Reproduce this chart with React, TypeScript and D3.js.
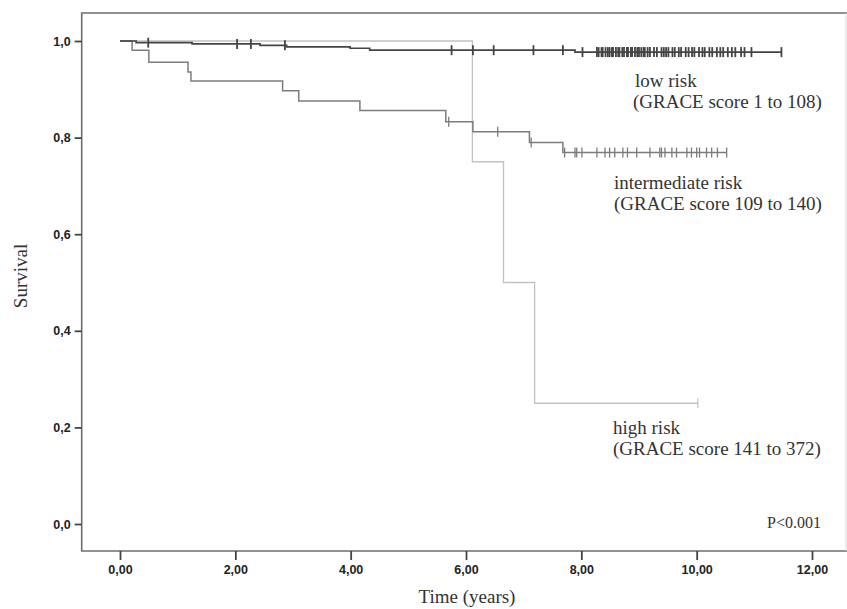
import React, { useEffect, useRef } from 'react';
import * as d3 from 'd3';

// Kaplan-Meier steps (time in years, survival)
const lowTimes = [0, 0.28, 1.25, 2.43, 2.89, 3.99, 4.33, 7.89];
const lowSurvival = [1.0, 0.9965, 0.994, 0.991, 0.988, 0.985, 0.981, 0.977];
const lowEnd = 11.47;
const lowCensored = [
  0.49, 2.03, 2.27, 2.86, 5.75, 6.12, 6.48, 7.17, 7.68, 8.02,
  8.27, 8.3, 8.35, 8.37, 8.42, 8.46, 8.49, 8.53, 8.55, 8.6, 8.64, 8.66, 8.71, 8.74,
  8.79, 8.81, 8.86, 8.88, 8.93, 8.97, 9.0, 9.04, 9.08, 9.1, 9.15, 9.19, 9.26, 9.31,
  9.39, 9.43, 9.47, 9.51, 9.58, 9.62, 9.69, 9.73, 9.81, 9.86, 9.92, 9.96, 10.04, 10.1,
  10.14, 10.22, 10.27, 10.35, 10.41, 10.46, 10.54, 10.61, 10.67, 10.77, 10.83, 10.95, 11.47,
];

const midTimes = [0, 0.21, 0.5, 1.18, 1.23, 2.82, 3.1, 4.16, 5.65, 6.12, 7.1, 7.68];
const midSurvival = [1.0, 0.981, 0.956, 0.936, 0.917, 0.897, 0.876, 0.856, 0.833, 0.812, 0.79, 0.769];
const midEnd = 10.52;
const midCensored = [
  5.7, 6.55, 7.13, 7.71, 7.89, 7.92, 8.01, 8.27, 8.41, 8.49, 8.58, 8.72, 8.8, 8.96,
  9.19, 9.36, 9.39, 9.45, 9.57, 9.65, 9.83, 9.91, 10.0, 10.05, 10.17, 10.26, 10.36, 10.52,
];

const highTimes = [0, 6.11, 6.65, 7.19];
const highSurvival = [1.0, 0.75, 0.5, 0.25];
const highEnd = 10.02;
const highCensored = [10.02];

const xTicks = [0, 2, 4, 6, 8, 10, 12];
const yTicks = [0, 0.2, 0.4, 0.6, 0.8, 1.0];

const labels = [
  { lines: ['low risk', '(GRACE score 1 to 108)'], x: [635, 633], y: 87 },
  { lines: ['intermediate risk', '(GRACE score 109 to 140)'], x: [614, 614], y: 189 },
  { lines: ['high risk', '(GRACE score 141 to 372)'], x: [613, 613], y: 434 },
];

const serif = '"Liberation Serif", "Times New Roman", serif';

const App = () => {
  const svgRef = useRef(null);

  useEffect(() => {
    const W = 847;
    const H = 609;
    const svg = d3.select(svgRef.current).attr('width', W).attr('height', H);
    svg.selectAll('*').remove();

    const x = d3.scaleLinear().domain([0, 12]).range([120, 812]);
    const y = d3.scaleLinear().domain([0, 1]).range([524, 41]);
    const axisX = 81.7;
    const axisY = 551;
    const axisColor = '#6e6e6e';

    // frame
    svg.append('path')
      .attr('d', `M${W},13H${axisX}V${axisY}H${W}`)
      .attr('fill', 'none')
      .attr('stroke', axisColor)
      .attr('stroke-width', 1.6);
    svg.append('line')
      .attr('x1', W - 1).attr('x2', W - 1).attr('y1', 13).attr('y2', axisY)
      .attr('stroke', '#d8d8d8').attr('stroke-width', 1);

    // axes
    const fmt = (d, n) => d.toFixed(n).replace('.', ',');
    const gy = svg.append('g')
      .attr('transform', `translate(${axisX},0)`)
      .call(d3.axisLeft(y).tickValues(yTicks).tickSize(7).tickPadding(4).tickFormat((d) => fmt(d, 1)));
    const gx = svg.append('g')
      .attr('transform', `translate(0,${axisY})`)
      .call(d3.axisBottom(x).tickValues(xTicks).tickSize(9).tickPadding(5).tickFormat((d) => fmt(d, 2)));
    [gx, gy].forEach((g) => {
      g.select('.domain').remove();
      g.selectAll('line').attr('stroke', '#444').attr('stroke-width', 1.8);
      g.selectAll('text')
        .style('font-family', '"Liberation Sans", Arial, sans-serif')
        .style('font-weight', 'bold')
        .style('font-size', '12.5px')
        .attr('fill', '#222');
    });

    // axis titles
    svg.append('text')
      .attr('transform', 'translate(27,276) rotate(-90)')
      .attr('text-anchor', 'middle')
      .style('font-family', serif)
      .style('font-size', '19px')
      .attr('fill', '#333')
      .text('Survival');
    svg.append('text')
      .attr('x', 467)
      .attr('y', 603)
      .attr('text-anchor', 'middle')
      .style('font-family', serif)
      .style('font-size', '19px')
      .attr('fill', '#333')
      .text('Time (years)');

    const line = d3.line().curve(d3.curveStepAfter).x((d) => x(d[0])).y((d) => y(d[1]));
    const survAt = (times, surv, t) => surv[d3.bisectRight(times, t) - 1];

    const groups = [
      { times: highTimes, surv: highSurvival, end: highEnd, cens: highCensored, color: '#c2c2c2', w: 1.3, cw: 1.2 },
      { times: midTimes, surv: midSurvival, end: midEnd, cens: midCensored, color: '#7c7c7c', w: 1.5, cw: 1.3 },
      { times: lowTimes, surv: lowSurvival, end: lowEnd, cens: lowCensored, color: '#444', w: 1.7, cw: 1.8 },
    ];

    groups.forEach((g) => {
      const pts = g.times.map((t, i) => [t, g.surv[i]]);
      pts.push([g.end, g.surv[g.surv.length - 1]]);
      svg.append('path')
        .attr('d', line(pts))
        .attr('fill', 'none')
        .attr('stroke', g.color)
        .attr('stroke-width', g.w);
      svg.append('g')
        .selectAll('line')
        .data(g.cens)
        .enter()
        .append('line')
        .attr('x1', (d) => x(d))
        .attr('x2', (d) => x(d))
        .attr('y1', (d) => y(survAt(g.times, g.surv, d)) - 5)
        .attr('y2', (d) => y(survAt(g.times, g.surv, d)) + 5)
        .attr('stroke', g.color)
        .attr('stroke-width', g.cw);
    });

    // curve labels
    labels.forEach((l) => {
      l.lines.forEach((s, i) => {
        svg.append('text')
          .attr('x', l.x[i])
          .attr('y', l.y + i * 21)
          .style('font-family', serif)
          .style('font-size', '19px')
          .attr('fill', '#333')
          .text(s);
      });
    });

    svg.append('text')
      .attr('x', 821)
      .attr('y', 528)
      .attr('text-anchor', 'end')
      .style('font-family', serif)
      .style('font-size', '16px')
      .attr('fill', '#333')
      .text('P<0.001');
  }, []);

  return (
    <div style={{ position: 'absolute', left: 0, top: 0 }}>
      <svg ref={svgRef}></svg>
    </div>
  );
};

export default App;
